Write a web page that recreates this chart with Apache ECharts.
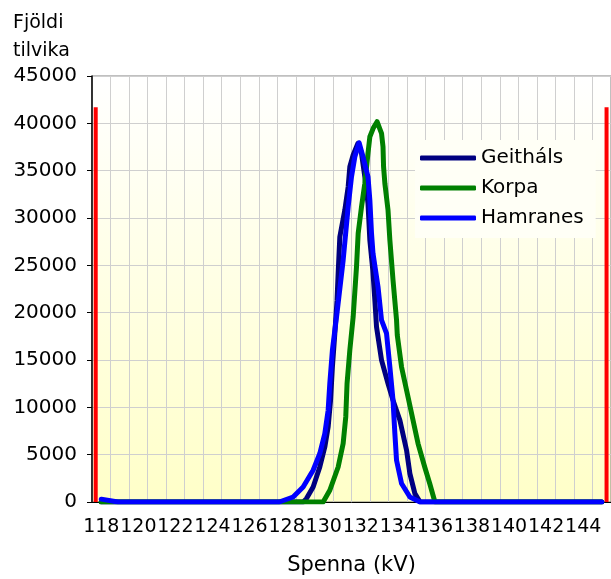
<!DOCTYPE html>
<html>
<head>
<meta charset="utf-8">
<script src="https://cdn.jsdelivr.net/npm/echarts@6/dist/echarts.min.js"></script>
<style>
    html, body {margin: 0; padding: 0; background: #fff;}
    #chart {width: 611px; height: 579px;}
</style>
</head>
<body>
<div id="chart"></div>
<script>
//x axis categories (kV), labelled every other one
var categories = ['118', '119', '120', '121', '122', '123', '124', '125', '126', '127',
    '128', '129', '130', '131', '132', '133', '134', '135', '136', '137',
    '138', '139', '140', '141', '142', '143', '144', '145'];

//Geitháls
var geithalsKv = [118, 128.9, 129.07, 129.43, 129.79, 130.06, 130.24, 130.37, 130.47, 130.6,
    130.72, 130.78, 130.87, 131.14, 131.32, 131.41, 131.59, 131.85, 132.04, 132.22,
    132.39, 132.49, 132.65, 132.76, 132.85, 133.12, 133.47, 133.74, 134.11, 134.47,
    134.65, 134.92, 135.2, 145];
var geithalsVal = [0, 0, 360, 1590, 3700, 5810, 7930, 10750, 14270, 17800,
    21320, 24140, 28010, 30840, 33300, 35410, 36650, 37890, 36830, 34350,
    31540, 27660, 24490, 21320, 18500, 14980, 12520, 10750, 8640, 5470,
    3000, 890, 0, 0];

//Korpa
var korpaKv = [118, 129.97, 130.33, 130.78, 131.05, 131.19, 131.26, 131.41, 131.59, 131.77,
    131.86, 132.04, 132.22, 132.39, 132.49, 132.67, 132.88, 133.12, 133.2, 133.23,
    133.3, 133.47, 133.57, 133.74, 133.93, 133.97, 134.2, 134.55, 134.82, 135.09,
    135.45, 135.72, 136, 145];
var korpaVal = [0, 0, 1240, 3700, 6170, 8990, 12520, 16040, 19560, 24840,
    28370, 31180, 33660, 36830, 38580, 39470, 40170, 38940, 37530, 35410,
    33660, 30840, 27660, 23440, 19210, 17620, 14270, 11100, 8640, 6170,
    3700, 1950, 0, 0];

//Hamranes
var hamranesKv = [118, 118.9, 127.6, 128.35, 128.89, 129.43, 129.79, 130.06, 130.24, 130.33,
    130.47, 130.72, 131.05, 131.32, 131.5, 131.68, 131.91, 132.12, 132.39, 132.49,
    132.58, 132.66, 132.93, 133.12, 133.39, 133.57, 133.74, 133.84, 133.93, 134.2,
    134.65, 135.2, 145];
var hamranesVal = [300, 0, 0, 530, 1590, 3350, 5120, 7230, 9690, 12520,
    16040, 20000, 25550, 31180, 34350, 36470, 37950, 36470, 34350, 31890,
    28370, 26260, 22730, 19210, 17800, 14270, 10750, 7230, 4410, 1950,
    530, 0, 0];

//red vertical lines
var redKv = [117.7, 145.26];
var redTop = 41700;

var yTicks = [0, 5000, 10000, 15000, 20000, 25000, 30000, 35000, 40000, 45000];

//[kV, value] pairs
function toPoints(kv, val) {
    var result = [];
    for (var i = 0; i < kv.length; i++) {
        result.push([kv[i], val[i]]);
    }
    return result;
}

function curve(name, kv, val, color) {
    return {
        name: name,
        type: 'line',
        xAxisIndex: 1,
        data: toPoints(kv, val),
        symbol: 'none',
        z: 3,
        itemStyle: {color: color},
        lineStyle: {color: color, width: 5, cap: 'round', join: 'round'}
    };
}

function redLine(kv) {
    return {
        type: 'line',
        xAxisIndex: 1,
        data: [[kv, 0], [kv, redTop]],
        symbol: 'none',
        z: 2,
        lineStyle: {color: '#ff0000', width: 4}
    };
}

var myChart = echarts.init(document.getElementById('chart'));

var option = {
    animation: false,
    textStyle: {fontFamily: 'DejaVu Sans'},
    //y axis title, top left
    graphic: [{
        type: 'text',
        left: 13,
        top: 9,
        style: {
            text: 'Fjöldi\ntilvika',
            fontSize: 19,
            lineHeight: 28,
            fontFamily: 'DejaVu Sans',
            fill: '#000',
            align: 'left'
        }
    }],
    legend: {
        data: ['Geitháls', 'Korpa', 'Hamranes'],
        orient: 'vertical',
        left: 415,
        top: 140,
        padding: [8, 12, 10, 5],
        itemGap: 10,
        itemWidth: 56,
        itemHeight: 5,
        icon: 'roundRect',
        backgroundColor: '#fffff6',
        textStyle: {fontSize: 20, color: '#000'}
    },
    grid: {
        left: 92,
        top: 76,
        right: 0,
        bottom: 77,
        outerBoundsMode: 'none',
        show: true,
        borderColor: '#808080',
        borderWidth: 1,
        backgroundColor: new echarts.graphic.LinearGradient(0, 0, 0, 1, [
            {offset: 0, color: '#ffffff'},
            {offset: 1, color: '#ffffc8'}
        ])
    },
    xAxis: [
        {
            type: 'category',
            data: categories,
            boundaryGap: true,
            name: 'Spenna (kV)',
            nameLocation: 'middle',
            nameGap: 53,
            nameTextStyle: {fontSize: 21, color: '#000'},
            axisLine: {lineStyle: {color: '#000', width: 1}},
            axisTick: {interval: 0, length: 5, lineStyle: {color: '#000'}},
            axisLabel: {interval: 1, fontSize: 19, color: '#000', margin: 16},
            splitLine: {show: true, interval: 0, lineStyle: {color: '#cfcfcf', width: 1}}
        },
        {
            type: 'value',
            show: false,
            min: 117.5,
            max: 145.5
        }
    ],
    yAxis: {
        type: 'value',
        min: yTicks[0],
        max: yTicks[yTicks.length - 1],
        interval: yTicks[1] - yTicks[0],
        axisLine: {show: true, lineStyle: {color: '#000', width: 1.5}},
        axisTick: {show: true, length: 5, lineStyle: {color: '#000'}},
        axisLabel: {
            fontSize: 20,
            color: '#000',
            margin: 15,
            formatter: function (v) {
                return String(v);
            }
        },
        splitLine: {show: true, lineStyle: {color: '#cfcfcf', width: 1}}
    },
    series: [
        redLine(redKv[0]),
        redLine(redKv[1]),
        curve('Geitháls', geithalsKv, geithalsVal, '#000080'),
        curve('Korpa', korpaKv, korpaVal, '#008000'),
        curve('Hamranes', hamranesKv, hamranesVal, '#0000ff')
    ]
};

myChart.setOption(option);
</script>
</body>
</html>
